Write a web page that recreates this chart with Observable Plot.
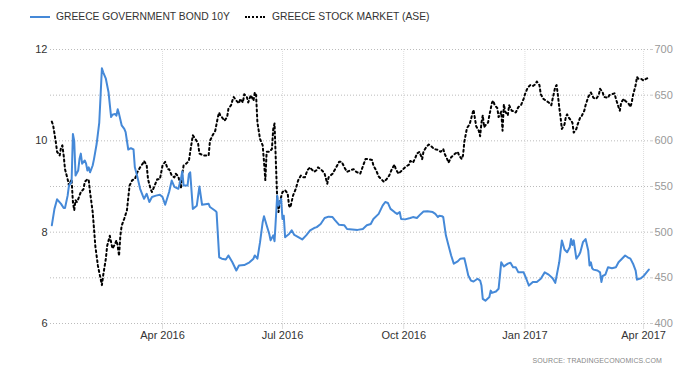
<!DOCTYPE html>
<html>
<head>
<meta charset="utf-8">
<script src="https://cdn.jsdelivr.net/npm/d3@7"></script>
<script src="https://cdn.jsdelivr.net/npm/@observablehq/plot@0.6"></script>
<style>
  html, body { margin: 0; padding: 0; background: #fff; }
  #wrap { position: relative; width: 700px; height: 375px; font-family: "Liberation Sans", Arial, sans-serif; overflow: hidden; }
  #legend { position: absolute; left: 0; top: 0; width: 700px; height: 34px; }
  .sw { position: absolute; top: 16px; width: 20px; }
  .lt { position: absolute; top: 11px; font-size: 10.3px; line-height: 12px; color: #333; white-space: nowrap; }
  #chart { position: absolute; left: 0; top: 34px; }
  #source { position: absolute; right: 38px; top: 357px; font-size: 7px; color: #888; white-space: nowrap; letter-spacing: 0.1px; }
</style>
</head>
<body>
<div id="wrap">
  <div id="legend">
    <div class="sw" style="left:30px; height:2px; background:#4589d8;"></div>
    <div class="lt" style="left:56px;">GREECE GOVERNMENT BOND 10Y</div>
    <div class="sw" style="left:245px; height:0; border-top:2px dotted #000;"></div>
    <div class="lt" style="left:272px;">GREECE STOCK MARKET (ASE)</div>
  </div>
  <div id="chart"></div>
  <div id="source">SOURCE: TRADINGECONOMICS.COM</div>
</div>
<script>
// ---- Data ----
const bondDates = ["2016-01-08","2016-01-10","2016-01-12","2016-01-15","2016-01-17","2016-01-18","2016-01-20","2016-01-21","2016-01-23","2016-01-24","2016-01-25","2016-01-26","2016-01-28","2016-01-29","2016-01-30","2016-01-31","2016-02-02","2016-02-03","2016-02-04","2016-02-05","2016-02-06","2016-02-08","2016-02-09","2016-02-11","2016-02-13","2016-02-14","2016-02-15","2016-02-16","2016-02-18","2016-02-20","2016-02-22","2016-02-23","2016-02-25","2016-02-26","2016-02-27","2016-02-28","2016-03-01","2016-03-03","2016-03-04","2016-03-06","2016-03-08","2016-03-10","2016-03-11","2016-03-13","2016-03-15","2016-03-17","2016-03-18","2016-03-20","2016-03-22","2016-03-24","2016-03-27","2016-03-30","2016-04-01","2016-04-03","2016-04-06","2016-04-08","2016-04-10","2016-04-13","2016-04-15","2016-04-16","2016-04-17","2016-04-20","2016-04-21","2016-04-22","2016-04-24","2016-04-27","2016-04-29","2016-05-01","2016-05-06","2016-05-07","2016-05-11","2016-05-12","2016-05-14","2016-05-16","2016-05-19","2016-05-21","2016-05-24","2016-05-27","2016-05-29","2016-06-02","2016-06-06","2016-06-09","2016-06-10","2016-06-12","2016-06-14","2016-06-16","2016-06-17","2016-06-19","2016-06-21","2016-06-22","2016-06-24","2016-06-25","2016-06-27","2016-06-28","2016-06-30","2016-07-01","2016-07-02","2016-07-03","2016-07-06","2016-07-08","2016-07-10","2016-07-12","2016-07-16","2016-07-19","2016-07-22","2016-07-25","2016-07-27","2016-07-30","2016-08-02","2016-08-05","2016-08-08","2016-08-10","2016-08-13","2016-08-17","2016-08-19","2016-08-23","2016-08-27","2016-08-31","2016-09-03","2016-09-06","2016-09-08","2016-09-12","2016-09-15","2016-09-17","2016-09-19","2016-09-21","2016-09-24","2016-09-26","2016-09-28","2016-09-29","2016-10-02","2016-10-06","2016-10-08","2016-10-11","2016-10-14","2016-10-16","2016-10-19","2016-10-23","2016-10-25","2016-10-27","2016-10-28","2016-10-30","2016-10-31","2016-11-02","2016-11-04","2016-11-06","2016-11-08","2016-11-11","2016-11-13","2016-11-16","2016-11-17","2016-11-19","2016-11-21","2016-11-23","2016-11-26","2016-11-28","2016-11-29","2016-11-30","2016-12-02","2016-12-05","2016-12-06","2016-12-07","2016-12-10","2016-12-12","2016-12-14","2016-12-16","2016-12-19","2016-12-21","2016-12-23","2016-12-25","2016-12-27","2016-12-31","2017-01-02","2017-01-04","2017-01-07","2017-01-10","2017-01-13","2017-01-16","2017-01-19","2017-01-22","2017-01-24","2017-01-27","2017-01-29","2017-01-31","2017-02-02","2017-02-04","2017-02-05","2017-02-06","2017-02-07","2017-02-09","2017-02-11","2017-02-12","2017-02-14","2017-02-16","2017-02-18","2017-02-19","2017-02-20","2017-02-21","2017-02-22","2017-02-25","2017-02-27","2017-02-28","2017-03-01","2017-03-03","2017-03-05","2017-03-08","2017-03-11","2017-03-13","2017-03-16","2017-03-18","2017-03-20","2017-03-22","2017-03-24","2017-03-26","2017-03-27","2017-03-30","2017-04-01","2017-04-03","2017-04-05"];
const bondValues = [8.15,8.51,8.72,8.62,8.53,8.53,8.80,9.02,9.10,10.15,10.00,9.24,9.35,9.60,9.72,9.50,9.57,9.50,9.35,9.42,9.31,9.46,9.60,9.93,10.40,10.99,11.59,11.50,11.36,11.07,10.52,10.57,10.59,10.55,10.69,10.59,10.34,10.26,10.19,9.81,9.84,9.81,9.42,9.20,8.95,8.80,8.73,8.84,8.66,8.77,8.80,8.82,8.77,8.60,8.88,9.13,8.99,8.95,9.17,9.33,9.02,9.02,9.27,9.31,8.51,8.58,9.00,8.60,8.62,8.55,8.47,8.44,7.45,7.42,7.40,7.49,7.34,7.16,7.27,7.28,7.34,7.42,7.49,7.42,7.78,8.22,8.35,8.15,7.96,7.82,7.93,7.80,8.80,8.58,8.73,8.29,8.36,7.89,7.96,8.04,7.94,7.91,7.84,7.93,8.04,8.09,8.11,8.18,8.31,8.34,8.33,8.26,8.16,8.15,8.07,8.06,8.05,8.07,8.15,8.18,8.29,8.40,8.58,8.66,8.64,8.51,8.44,8.40,8.44,8.29,8.28,8.31,8.33,8.31,8.40,8.45,8.46,8.44,8.40,8.33,8.36,8.35,8.33,7.93,7.71,7.49,7.31,7.36,7.42,7.43,7.31,7.05,6.94,6.92,6.98,6.94,6.83,6.54,6.50,6.58,6.72,6.67,6.70,6.76,7.34,7.25,7.31,7.33,7.23,7.23,7.12,7.12,6.98,6.83,6.91,6.91,6.98,7.12,7.07,6.99,6.89,7.34,7.82,7.62,7.56,7.67,7.85,7.72,7.82,7.42,7.50,7.56,7.78,7.85,7.60,7.27,7.34,7.21,7.18,7.16,7.12,6.91,7.04,7.07,7.23,7.21,7.23,7.34,7.43,7.49,7.45,7.42,7.31,7.16,6.96,6.99,7.04,7.11,7.18];

const stockDates = ["2016-01-08","2016-01-09","2016-01-11","2016-01-12","2016-01-14","2016-01-15","2016-01-16","2016-01-17","2016-01-18","2016-01-20","2016-01-21","2016-01-23","2016-01-24","2016-01-25","2016-01-26","2016-01-27","2016-01-28","2016-01-30","2016-02-01","2016-02-02","2016-02-04","2016-02-05","2016-02-06","2016-02-08","2016-02-09","2016-02-10","2016-02-12","2016-02-14","2016-02-15","2016-02-16","2016-02-18","2016-02-19","2016-02-21","2016-02-22","2016-02-23","2016-02-25","2016-02-26","2016-02-27","2016-02-28","2016-02-29","2016-03-01","2016-03-03","2016-03-05","2016-03-07","2016-03-09","2016-03-11","2016-03-13","2016-03-15","2016-03-17","2016-03-18","2016-03-20","2016-03-21","2016-03-23","2016-03-24","2016-03-26","2016-03-28","2016-03-30","2016-04-01","2016-04-03","2016-04-05","2016-04-06","2016-04-08","2016-04-10","2016-04-11","2016-04-13","2016-04-15","2016-04-16","2016-04-17","2016-04-19","2016-04-21","2016-04-22","2016-04-24","2016-04-26","2016-04-28","2016-04-29","2016-05-02","2016-05-04","2016-05-06","2016-05-07","2016-05-09","2016-05-11","2016-05-13","2016-05-14","2016-05-15","2016-05-16","2016-05-18","2016-05-20","2016-05-21","2016-05-23","2016-05-24","2016-05-25","2016-05-27","2016-05-29","2016-05-30","2016-06-01","2016-06-02","2016-06-04","2016-06-05","2016-06-07","2016-06-09","2016-06-10","2016-06-11","2016-06-12","2016-06-14","2016-06-16","2016-06-17","2016-06-18","2016-06-19","2016-06-21","2016-06-23","2016-06-24","2016-06-25","2016-06-26","2016-06-27","2016-06-28","2016-06-29","2016-07-01","2016-07-03","2016-07-05","2016-07-06","2016-07-07","2016-07-09","2016-07-11","2016-07-13","2016-07-15","2016-07-17","2016-07-18","2016-07-20","2016-07-22","2016-07-23","2016-07-25","2016-07-27","2016-07-28","2016-07-30","2016-08-01","2016-08-02","2016-08-04","2016-08-05","2016-08-08","2016-08-10","2016-08-13","2016-08-15","2016-08-17","2016-08-19","2016-08-22","2016-08-24","2016-08-26","2016-08-29","2016-08-31","2016-09-02","2016-09-04","2016-09-07","2016-09-08","2016-09-10","2016-09-12","2016-09-14","2016-09-16","2016-09-18","2016-09-20","2016-09-22","2016-09-24","2016-09-25","2016-09-27","2016-09-30","2016-10-02","2016-10-05","2016-10-06","2016-10-08","2016-10-10","2016-10-11","2016-10-13","2016-10-15","2016-10-16","2016-10-18","2016-10-20","2016-10-22","2016-10-24","2016-10-27","2016-10-29","2016-10-31","2016-11-01","2016-11-03","2016-11-04","2016-11-06","2016-11-09","2016-11-11","2016-11-12","2016-11-14","2016-11-15","2016-11-16","2016-11-18","2016-11-20","2016-11-22","2016-11-23","2016-11-24","2016-11-25","2016-11-27","2016-11-28","2016-11-29","2016-11-30","2016-12-01","2016-12-02","2016-12-04","2016-12-05","2016-12-07","2016-12-08","2016-12-09","2016-12-11","2016-12-12","2016-12-14","2016-12-15","2016-12-16","2016-12-17","2016-12-19","2016-12-20","2016-12-22","2016-12-24","2016-12-25","2016-12-27","2016-12-29","2016-12-31","2017-01-01","2017-01-03","2017-01-05","2017-01-07","2017-01-09","2017-01-10","2017-01-12","2017-01-13","2017-01-15","2017-01-17","2017-01-19","2017-01-21","2017-01-22","2017-01-24","2017-01-25","2017-01-26","2017-01-27","2017-01-28","2017-01-29","2017-01-31","2017-02-01","2017-02-02","2017-02-03","2017-02-05","2017-02-06","2017-02-07","2017-02-09","2017-02-10","2017-02-12","2017-02-13","2017-02-15","2017-02-16","2017-02-18","2017-02-20","2017-02-21","2017-02-22","2017-02-24","2017-02-26","2017-02-27","2017-03-01","2017-03-02","2017-03-05","2017-03-06","2017-03-08","2017-03-10","2017-03-11","2017-03-13","2017-03-14","2017-03-15","2017-03-17","2017-03-18","2017-03-21","2017-03-22","2017-03-23","2017-03-24","2017-03-26","2017-03-27","2017-03-28","2017-03-30","2017-04-01","2017-04-03","2017-04-05"];
const stockValues = [621,617,599,588,584,593,595,584,569,558,551,558,533,524,535,533,536,544,547,555,558,557,544,522,504,485,463,449,442,453,471,485,496,489,482,487,491,485,474,496,507,515,524,551,557,558,566,571,575,578,573,558,547,544,551,558,558,573,577,569,569,562,560,564,561,549,564,573,575,578,588,606,602,597,586,584,584,584,600,606,611,626,631,627,626,622,626,635,639,644,648,644,641,646,642,651,648,642,650,644,653,650,620,602,595,577,557,588,588,591,613,619,577,537,522,533,544,546,542,529,527,540,547,557,562,560,560,568,571,569,566,568,571,569,566,564,553,560,564,569,577,577,571,566,568,569,566,564,572,580,580,579,573,568,561,558,555,558,562,569,574,569,564,568,571,574,578,576,582,586,588,580,588,593,596,594,591,590,588,591,586,580,576,582,586,588,584,580,584,599,614,618,629,634,625,616,611,605,620,628,615,617,620,628,642,644,639,636,626,632,611,640,632,628,639,633,632,631,637,639,646,651,658,661,660,662,665,661,651,646,644,642,639,646,659,661,650,637,626,613,618,626,629,626,622,620,609,613,618,626,627,633,639,648,653,650,647,646,650,657,653,648,647,650,651,652,646,637,633,642,646,644,640,637,642,650,661,670,668,668,666,668,669];

const gridTicks = [6, 7, 8, 9, 10, 11, 12];
const leftLabels = [6, 8, 10, 12];
const rightTicks = [400, 450, 500, 550, 600, 650, 700];
const xTickDates = ["2016-04-01", "2016-07-01", "2016-10-01", "2017-01-01", "2017-04-01"];
const xDomain = ["2016-01-07", "2017-04-05T12:00:00Z"];

// ---- Build tables ----
const bond = bondDates.map((d, i) => ({date: new Date(d), value: bondValues[i]}));
const stock = stockDates.map((d, i) => ({date: new Date(d), value: stockValues[i]}));
// map right-axis (stock) values onto the left-axis scale
const y0 = gridTicks[0], y1 = gridTicks[gridTicks.length - 1];
const r0 = rightTicks[0], r1 = rightTicks[rightTicks.length - 1];
const toLeft = s => y0 + (s - r0) * (y1 - y0) / (r1 - r0);
const toRight = v => r0 + (v - y0) * (r1 - r0) / (y1 - y0);
const xTicks = xTickDates.map(d => new Date(d));

const chart = Plot.plot({
  width: 700,
  height: 310,
  marginLeft: 50,
  marginRight: 51,
  marginTop: 15,
  marginBottom: 21,
  style: {fontFamily: '"Liberation Sans", Arial, sans-serif', fontSize: "11px", background: "#fff"},
  x: {type: "utc", domain: xDomain.map(d => new Date(d))},
  y: {domain: [y0, y1]},
  marks: [
    Plot.gridY(gridTicks, {stroke: "#bbb", strokeOpacity: 1, strokeWidth: 1, strokeDasharray: "1,2"}),
    Plot.gridX(xTicks, {stroke: "#ddd", strokeOpacity: 1, strokeWidth: 1, strokeDasharray: "1,1"}),
    Plot.axisX(xTicks, {anchor: "bottom", tickSize: 6, tickPadding: 2, stroke: "#ddd", fill: "#333", tickFormat: d3.utcFormat("%b %Y"), label: null}),
    Plot.axisY(leftLabels, {anchor: "left", tickSize: 0, tickPadding: 3, fill: "#333", label: null}),
    Plot.axisY(gridTicks, {anchor: "right", tickSize: 3, tickPadding: 2, stroke: "#ccc", fill: "#999", tickFormat: v => String(Math.round(toRight(v))), label: null}),
    Plot.line(stock, {x: "date", y: d => toLeft(d.value), stroke: "#000", strokeWidth: 2, strokeDasharray: "2,3"}),
    Plot.line(bond, {x: "date", y: "value", stroke: "#4589d8", strokeWidth: 2})
  ]
});
document.getElementById("chart").appendChild(chart);
</script>
</body>
</html>
